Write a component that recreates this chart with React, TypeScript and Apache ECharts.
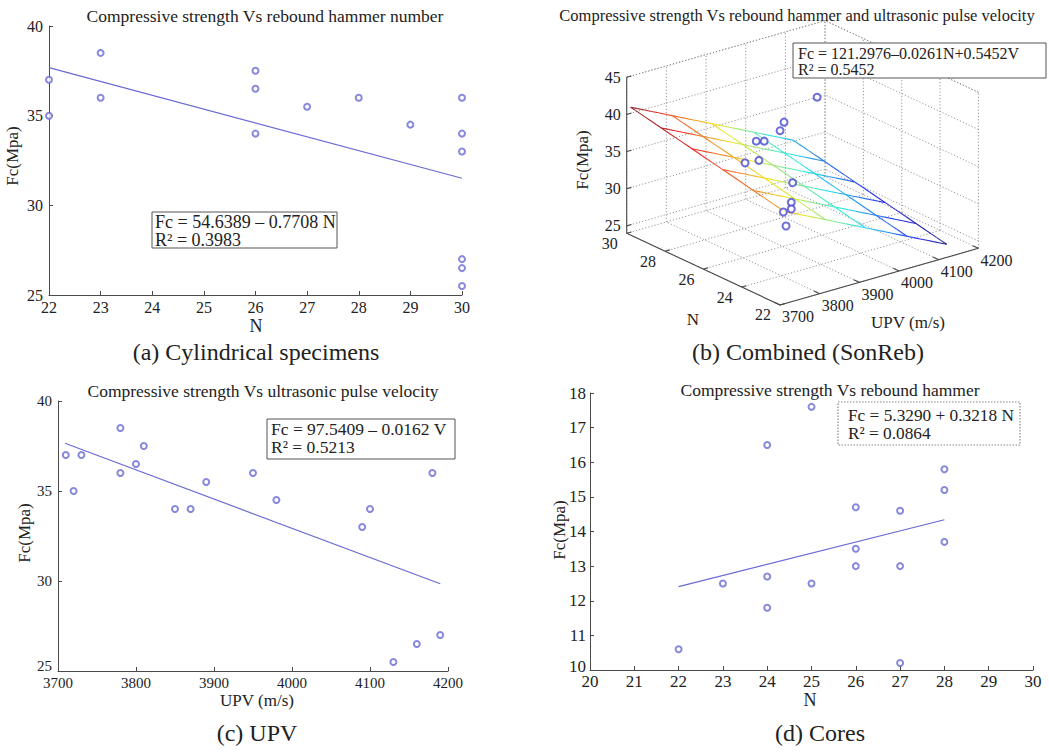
import React, { useEffect, useRef } from "react";
import * as echarts from "echarts";

// ---------- Panel (a): cylindrical specimens ----------
const aN = [22, 22, 23, 23, 26, 26, 26, 27, 28, 29, 30, 30, 30, 30, 30, 30];
const aFc = [37.0, 35.0, 38.5, 36.0, 37.5, 36.5, 34.0, 35.5, 36.0, 34.5, 36.0, 34.0, 33.0, 27.0, 26.5, 25.5];
const aFitN = [22, 30];
const aFitFc = [37.68, 31.51];

// ---------- Panel (c): UPV ----------
const cV = [3710, 3720, 3730, 3780, 3780, 3800, 3810, 3850, 3870, 3890, 3950, 3980, 4090, 4100, 4130, 4160, 4180, 4190];
const cFc = [37.0, 35.0, 37.0, 38.5, 36.0, 36.5, 37.5, 34.0, 34.0, 35.5, 36.0, 34.5, 33.0, 34.0, 25.5, 26.5, 36.0, 27.0];
const cFitV = [3709, 4190];
const cFitFc = [37.65, 29.85];

// ---------- Panel (d): cores ----------
const dN = [22, 23, 24, 24, 24, 25, 25, 26, 26, 26, 27, 27, 27, 28, 28, 28];
const dFc = [10.6, 12.5, 16.5, 12.7, 11.8, 17.6, 12.5, 14.7, 13.5, 13.0, 14.6, 13.0, 10.2, 15.8, 15.2, 13.7];
const dFitN = [22, 28];
const dFitFc = [12.41, 14.34];

// ---------- Panel (b): combined SonReb (3D) ----------
const bN = [30, 28, 28, 28, 28, 26, 26, 26, 24, 24, 24, 22];
const bV = [4180, 4000, 3990, 3930, 3950, 3805, 3840, 3925, 3825, 3825, 3805, 3715];
const bFc = [35.0, 36.8, 35.8, 35.3, 35.0, 36.7, 36.5, 32.2, 33.5, 32.6, 32.5, 34.4];
// fitted surface mesh (rows: N, columns: V)
const bMeshN = [22, 23.6, 25.2, 26.8, 28.4, 30];
const bMeshV = [3710, 3815, 3915, 4020, 4120];
const bMeshFc = [
  [36.46, 33.72, 31.11, 28.37, 25.76],
  [37.33, 34.59, 31.98, 29.24, 26.63],
  [38.21, 35.47, 32.86, 30.12, 27.51],
  [39.08, 36.34, 33.73, 30.99, 28.38],
  [39.95, 37.21, 34.6, 31.86, 29.25],
  [40.82, 38.08, 35.47, 32.73, 30.12],
];
const bNTicks = [22, 24, 26, 28, 30];
const bVTicks = [3700, 3800, 3900, 4000, 4100, 4200];
const bZTicks = [25, 30, 35, 40, 45];
const bNLim = [22, 30];
const bVLim = [3700, 4200];
const bZLim = [24, 45];

const FONT = "Liberation Serif";
const AX = "#4a4a4a";
const TXT = "#222";
const PT = "#6a6ad4";
const GRIDC = "#8a8a8a";

// oblique projection of the 3D box into the chart's pixel space
function proj(n: number, v: number, z: number): number[] {
  const dn = bNLim[1] - n;
  const dv = v - bVLim[0];
  const dz = z - bZLim[0];
  return [626.7 + dn * 19.17 + dv * 0.3967, 233.3 + dn * 8.96 - dv * 0.1133 - dz * 7.43];
}

function jet(t: number): string {
  const cl = (x: number) => Math.max(0, Math.min(1, x));
  const r = cl(1.5 - Math.abs(4 * t - 3));
  const g = cl(1.5 - Math.abs(4 * t - 2));
  const b = cl(1.5 - Math.abs(4 * t - 1));
  const m = 0.15;
  const f = (x: number) => Math.round((x * (1 - m) + m) * 255);
  return `rgb(${f(r * 0.92)},${f(g * 0.9)},${f(b * 0.92)})`;
}

function zip(a: number[], b: number[]) {
  return a.map((x, i) => [x, b[i]]);
}

function valAxis(gridIndex: number, min: number, max: number, interval: number, fontSize: number, margin = 4, liftMin = 0) {
  return {
    type: "value",
    gridIndex,
    min,
    max,
    interval,
    axisLine: { show: true, onZero: false, lineStyle: { color: AX, width: 1 } },
    axisTick: { show: true, inside: true, length: 4, lineStyle: { color: AX } },
    axisLabel: {
      color: TXT,
      fontFamily: FONT,
      fontSize,
      margin,
      formatter: (v: number) => (liftMin && v === min ? `{lo|${v}}` : String(v)),
      rich: { lo: { fontFamily: FONT, fontSize, color: TXT, padding: [0, 0, liftMin * 2, 0] } },
    },
    splitLine: { show: false },
  };
}

function txt(text: string, x: number, y: number, fontSize: number, opts: any = {}) {
  return {
    type: "text",
    x,
    y,
    rotation: opts.rotation || 0,
    z: 100,
    style: {
      text,
      fontFamily: FONT,
      fontSize,
      fill: TXT,
      align: opts.align || "center",
      verticalAlign: "middle",
    },
  };
}

function eqBox(x: number, y: number, w: number, h: number, dotted: boolean) {
  return {
    type: "rect",
    z: 90,
    shape: { x, y, width: w, height: h },
    style: { fill: "#fff", stroke: dotted ? "#888" : "#555", lineWidth: dotted ? 1.2 : 1, lineDash: dotted ? [1.5, 1.5] : null },
  };
}

function render3D(params: any, api: any) {
  const c = (n: number, v: number, z: number) => api.coord(proj(n, v, z));
  const children: any[] = [];
  const dotted = (p: number[], q: number[]) =>
    children.push({
      type: "line",
      shape: { x1: p[0], y1: p[1], x2: q[0], y2: q[1] },
      style: { stroke: GRIDC, lineWidth: 0.9, lineDash: [1.2, 2] },
    });
  const solid = (p: number[], q: number[]) =>
    children.push({
      type: "line",
      shape: { x1: p[0], y1: p[1], x2: q[0], y2: q[1] },
      style: { stroke: AX, lineWidth: 1.1 },
    });
  const [n0, n1] = bNLim;
  const [v0, v1] = bVLim;
  const [z0, z1] = bZLim;
  // floor grid
  bNTicks.forEach((n) => dotted(c(n, v0, z0), c(n, v1, z0)));
  bVTicks.forEach((v) => dotted(c(n0, v, z0), c(n1, v, z0)));
  // back wall at N max
  bVTicks.forEach((v) => dotted(c(n1, v, z0), c(n1, v, z1)));
  bZTicks.forEach((z) => dotted(c(n1, v0, z), c(n1, v1, z)));
  dotted(c(n1, v0, z1), c(n1, v1, z1));
  // back wall at V max
  bNTicks.forEach((n) => dotted(c(n, v1, z0), c(n, v1, z1)));
  bZTicks.forEach((z) => dotted(c(n0, v1, z), c(n1, v1, z)));
  dotted(c(n0, v1, z1), c(n1, v1, z1));
  // axes
  solid(c(n1, v0, z0), c(n0, v0, z0));
  solid(c(n0, v0, z0), c(n0, v1, z0));
  solid(c(n1, v0, z0), c(n1, v0, z1));
  // ticks
  bNTicks.forEach((n) => solid(c(n, v0, z0), c(n, v0 + 12, z0)));
  bVTicks.forEach((v) => solid(c(n0, v, z0), c(n0 + 0.3, v, z0)));
  bZTicks.forEach((z) => solid(c(n1, v0, z), c(n1, v0 + 12, z)));
  // tick labels
  const lab = (s: string, p: number[], dx: number, dy: number, align = "center") =>
    children.push({
      type: "text",
      x: p[0] + dx,
      y: p[1] + dy,
      style: { text: s, fontFamily: FONT, fontSize: 16, fill: TXT, align, verticalAlign: "middle" },
    });
  bNTicks.forEach((n) => lab(String(n), c(n, v0, z0), -17, 10));
  bVTicks.forEach((v) => lab(String(v), c(n0, v, z0), 18, 12));
  bZTicks.forEach((z) => lab(String(z), c(n1, v0, z), -6, 0, "right"));
  // mesh surface
  let zmin = Infinity;
  let zmax = -Infinity;
  bMeshFc.forEach((row) => row.forEach((z) => { zmin = Math.min(zmin, z); zmax = Math.max(zmax, z); }));
  const seg = (na: number, va: number, za: number, nb: number, vb: number, zb: number) => {
    const K = 6;
    for (let k = 0; k < K; k++) {
      const t0 = k / K;
      const t1 = (k + 1) / K;
      const p = c(na + (nb - na) * t0, va + (vb - va) * t0, za + (zb - za) * t0);
      const q = c(na + (nb - na) * t1, va + (vb - va) * t1, za + (zb - za) * t1);
      const zm = za + (zb - za) * (t0 + t1) / 2;
      children.push({
        type: "line",
        shape: { x1: p[0], y1: p[1], x2: q[0], y2: q[1] },
        style: { stroke: jet((zm - zmin) / (zmax - zmin)), lineWidth: 1.1 },
      });
    }
  };
  for (let i = 0; i < bMeshN.length; i++) {
    for (let j = 0; j < bMeshV.length - 1; j++) {
      seg(bMeshN[i], bMeshV[j], bMeshFc[i][j], bMeshN[i], bMeshV[j + 1], bMeshFc[i][j + 1]);
    }
  }
  for (let j = 0; j < bMeshV.length; j++) {
    for (let i = 0; i < bMeshN.length - 1; i++) {
      seg(bMeshN[i], bMeshV[j], bMeshFc[i][j], bMeshN[i + 1], bMeshV[j], bMeshFc[i + 1][j]);
    }
  }
  return { type: "group", children };
}

export default function App() {
  const ref = useRef<HTMLDivElement>(null);
  useEffect(() => {
    if (!ref.current) return;
    const chart = echarts.init(ref.current, null, { renderer: "svg" });
    const scatterStyle = { color: PT, borderColor: PT, borderWidth: 1.2 };
    const option: any = {
      animation: false,
      backgroundColor: "#fff",
      grid: [
        { left: 49, top: 26, width: 413, height: 269, outerBoundsMode: "none" },
        { left: 58, top: 401, width: 390, height: 270, outerBoundsMode: "none" },
        { left: 590, top: 393, width: 443, height: 277, outerBoundsMode: "none" },
        { left: 0, top: 0, width: 1049, height: 752, outerBoundsMode: "none" },
      ],
      xAxis: [
        valAxis(0, 22, 30, 1, 16, 4),
        valAxis(1, 3700, 4200, 100, 15, 4),
        valAxis(2, 20, 30, 1, 17, 3),
        { type: "value", gridIndex: 3, min: 0, max: 1049, show: false },
      ],
      yAxis: [
        valAxis(0, 25, 40, 5, 16, 6),
        valAxis(1, 25, 40, 5, 15, 6, 5),
        valAxis(2, 10, 18, 1, 17, 4, 4),
        { type: "value", gridIndex: 3, min: 0, max: 752, inverse: true, show: false },
      ],
      series: [
        {
          type: "line", xAxisIndex: 0, yAxisIndex: 0, data: zip(aFitN, aFitFc), showSymbol: false,
          lineStyle: { color: PT, width: 1.2 }, z: 2,
        },
        {
          type: "scatter", xAxisIndex: 0, yAxisIndex: 0, data: zip(aN, aFc), symbol: "emptyCircle",
          symbolSize: 6, itemStyle: scatterStyle, z: 3,
        },
        {
          type: "line", xAxisIndex: 1, yAxisIndex: 1, data: zip(cFitV, cFitFc), showSymbol: false,
          lineStyle: { color: PT, width: 1.2 }, z: 2,
        },
        {
          type: "scatter", xAxisIndex: 1, yAxisIndex: 1, data: zip(cV, cFc), symbol: "emptyCircle",
          symbolSize: 6, itemStyle: scatterStyle, z: 3,
        },
        {
          type: "line", xAxisIndex: 2, yAxisIndex: 2, data: zip(dFitN, dFitFc), showSymbol: false,
          lineStyle: { color: PT, width: 1.2 }, z: 2,
        },
        {
          type: "scatter", xAxisIndex: 2, yAxisIndex: 2, data: zip(dN, dFc), symbol: "emptyCircle",
          symbolSize: 6, itemStyle: scatterStyle, z: 3,
        },
        {
          type: "custom", xAxisIndex: 3, yAxisIndex: 3, data: [[0, 0]], renderItem: render3D, clip: false,
          silent: true, z: 1,
        },
        {
          type: "scatter", xAxisIndex: 3, yAxisIndex: 3,
          data: bN.map((n, i) => proj(n, bV[i], bFc[i])),
          symbol: "emptyCircle", symbolSize: 7, itemStyle: { color: "#4a4ad0", borderColor: "#4a4ad0", borderWidth: 1.4 }, z: 5,
        },
      ],
      graphic: [
        // panel a
        txt("Compressive strength Vs rebound hammer number", 265, 16, 17.5),
        txt("Fc(Mpa)", 12, 156, 17, { rotation: Math.PI / 2 }),
        txt("N", 256, 326, 18),
        txt("(a) Cylindrical specimens", 256, 352, 24),
        eqBox(152, 212, 185, 36, false),
        txt("Fc = 54.6389 – 0.7708 N", 155, 221.5, 18, { align: "left" }),
        txt("R² = 0.3983", 155, 239.5, 18, { align: "left" }),
        // panel b
        txt("Compressive strength Vs rebound hammer and ultrasonic pulse velocity", 797, 15, 16.5),
        eqBox(793, 43, 253, 35, false),
        txt("Fc = 121.2976–0.0261N+0.5452V", 798, 53, 16, { align: "left" }),
        txt("R² = 0.5452", 798, 69.5, 16, { align: "left" }),
        txt("Fc(Mpa)", 582, 160, 17, { rotation: Math.PI / 2 }),
        txt("N", 693, 319, 17),
        txt("UPV (m/s)", 908, 322, 17),
        txt("(b) Combined (SonReb)", 808, 352, 24),
        // panel c
        txt("Compressive strength Vs ultrasonic pulse velocity", 263, 391, 17.5),
        eqBox(267, 419, 188, 40, false),
        txt("Fc = 97.5409 – 0.0162 V", 271, 429, 17.5, { align: "left" }),
        txt("R² = 0.5213", 271, 447, 17.5, { align: "left" }),
        txt("Fc(Mpa)", 24, 533, 17, { rotation: Math.PI / 2 }),
        txt("UPV (m/s)", 257, 700, 17),
        txt("(c) UPV", 257, 733, 24),
        // panel d
        txt("Compressive strength Vs rebound hammer", 830, 390, 17.5),
        eqBox(838, 402, 182, 43, true),
        txt("Fc = 5.3290 + 0.3218 N", 848, 415, 17.3, { align: "left" }),
        txt("R² = 0.0864", 848, 433, 17.3, { align: "left" }),
        txt("Fc(Mpa)", 559, 530, 17, { rotation: Math.PI / 2 }),
        txt("N", 810, 700, 18),
        txt("(d) Cores", 820, 733, 24),
      ],
    };
    chart.setOption(option);
    return () => chart.dispose();
  }, []);
  return (
    <div
      ref={ref}
      style={{ position: "fixed", left: 0, top: 0, width: "1049px", height: "752px", background: "#fff" }}
    />
  );
}
